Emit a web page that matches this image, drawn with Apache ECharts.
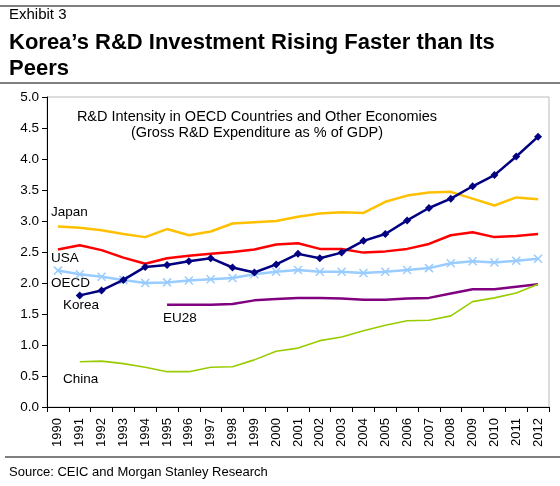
<!DOCTYPE html>
<html><head><meta charset="utf-8">
<script src="https://cdn.jsdelivr.net/npm/echarts@6/dist/echarts.min.js"></script>
<style>html,body{margin:0;padding:0;background:#fff}#c{width:560px;height:486px}</style>
</head><body><div id="c"></div>
<script>
var years = ['1990','1991','1992','1993','1994','1995','1996','1997','1998','1999','2000','2001','2002','2003','2004','2005','2006','2007','2008','2009','2010','2011','2012'];
var korea = [null,1.80,1.88,2.05,2.26,2.29,2.35,2.40,2.25,2.17,2.30,2.47,2.40,2.49,2.68,2.79,3.01,3.21,3.36,3.56,3.74,4.04,4.36];
var japan = [2.91,2.89,2.85,2.79,2.74,2.87,2.77,2.83,2.96,2.98,3.00,3.07,3.12,3.14,3.13,3.31,3.41,3.46,3.47,3.36,3.25,3.38,3.35];
var usa = [2.54,2.61,2.53,2.41,2.31,2.40,2.44,2.47,2.50,2.54,2.62,2.64,2.55,2.55,2.49,2.51,2.55,2.63,2.77,2.82,2.74,2.76,2.79];
var oecd = [2.20,2.14,2.10,2.05,2.00,2.01,2.04,2.06,2.08,2.14,2.18,2.21,2.18,2.18,2.16,2.18,2.21,2.24,2.32,2.35,2.33,2.36,2.39];
var eu28 = [null,null,null,null,null,1.65,1.65,1.65,1.66,1.72,1.74,1.76,1.76,1.75,1.73,1.73,1.75,1.76,1.83,1.90,1.90,1.94,1.98];
var china = [null,0.73,0.74,0.70,0.64,0.57,0.57,0.64,0.65,0.76,0.90,0.95,1.07,1.13,1.23,1.32,1.39,1.40,1.47,1.70,1.76,1.84,1.98];
var seriesNames = ['Korea','Japan','USA','OECD','EU28','China'];

var F = 'Liberation Sans, Arial, sans-serif';
var chart = echarts.init(document.getElementById('c'), null, {renderer:'canvas'});
function line(name, data, color, width, sym, symSize, extra) {
  var s = {name:name, type:'line', data:data, smooth:false, connectNulls:false,
    lineStyle:{color:color, width:width}, itemStyle:{color:color},
    symbol: sym || 'none', symbolSize: symSize || 0, showSymbol: !!sym, silent:true, z: 3};
  if (extra) for (var k in extra) s[k] = extra[k];
  return s;
}
chart.setOption({
  animation:false,
  backgroundColor:'#fff',
  grid:{left:47, right:11, top:97, bottom:79, show:true, borderColor:'#bbb', borderWidth:1},
  xAxis:{type:'category', data:years, boundaryGap:true,
    axisLine:{lineStyle:{color:'#000', width:1}},
    axisTick:{show:true, alignWithLabel:false, length:5, lineStyle:{color:'#000'}},
    axisLabel:{rotate:90, color:'#000', fontFamily:F, fontSize:13, margin:11}},
  yAxis:{type:'value', min:0, max:5, interval:0.5,
    axisLine:{show:true, lineStyle:{color:'#000'}},
    axisTick:{show:true, length:5, lineStyle:{color:'#000'}},
    splitLine:{show:false},
    axisLabel:{color:'#000', fontFamily:F, fontSize:13.5, margin:8, formatter:function(v){return v.toFixed(1);}}},
  series:[
    line(seriesNames[1], japan, '#FFC000', 2.5),
    line(seriesNames[2], usa, '#FF0000', 2.5),
    line(seriesNames[3], oecd, '#99CCFF', 2.5, 'path://M0,0L10,10M10,0L0,10', 8, {itemStyle:{color:'#99CCFF', borderColor:'#99CCFF', borderWidth:1.5}}),
    line(seriesNames[4], eu28, '#800080', 2.5),
    line(seriesNames[5], china, '#99CC00', 1.6),
    line(seriesNames[0], korea, '#000080', 2.5, 'diamond', 8, {z:4})
  ],
  graphic:[
    {type:'line', shape:{x1:0,y1:6,x2:560,y2:6}, style:{stroke:'#000', lineWidth:1.2}},
    {type:'text', left:9, top:7, style:{text:'Exhibit 3', font:'15px '+F, fill:'#000'}},
    {type:'text', left:9, top:30, style:{text:'Korea\u2019s R&D Investment Rising Faster than Its\nPeers', font:'bold 22px '+F, fill:'#000', lineHeight:26}},
    {type:'line', shape:{x1:0,y1:83,x2:560,y2:83}, style:{stroke:'#000', lineWidth:1.2}},
    {type:'text', x:257, y:109, style:{text:'R&D Intensity in OECD Countries and Other Economies\n(Gross R&D Expenditure as % of GDP)', font:'14.5px '+F, fill:'#000', align:'center', lineHeight:16}},
    {type:'text', left:51, top:205, style:{text:'Japan', font:'13.5px '+F, fill:'#000'}},
    {type:'text', left:51, top:251, style:{text:'USA', font:'13.5px '+F, fill:'#000'}},
    {type:'text', left:51, top:276, style:{text:'OECD', font:'13.5px '+F, fill:'#000'}},
    {type:'text', left:63, top:298, style:{text:'Korea', font:'13.5px '+F, fill:'#000'}},
    {type:'text', left:163, top:311, style:{text:'EU28', font:'13.5px '+F, fill:'#000'}},
    {type:'text', left:63, top:372, style:{text:'China', font:'13.5px '+F, fill:'#000'}},
    {type:'line', shape:{x1:5,y1:457,x2:560,y2:457}, style:{stroke:'#000', lineWidth:1.2}},
    {type:'text', left:9, top:466, style:{text:'Source: CEIC and Morgan Stanley Research', font:'13px '+F, fill:'#000'}}
  ]
});
</script></body></html>
